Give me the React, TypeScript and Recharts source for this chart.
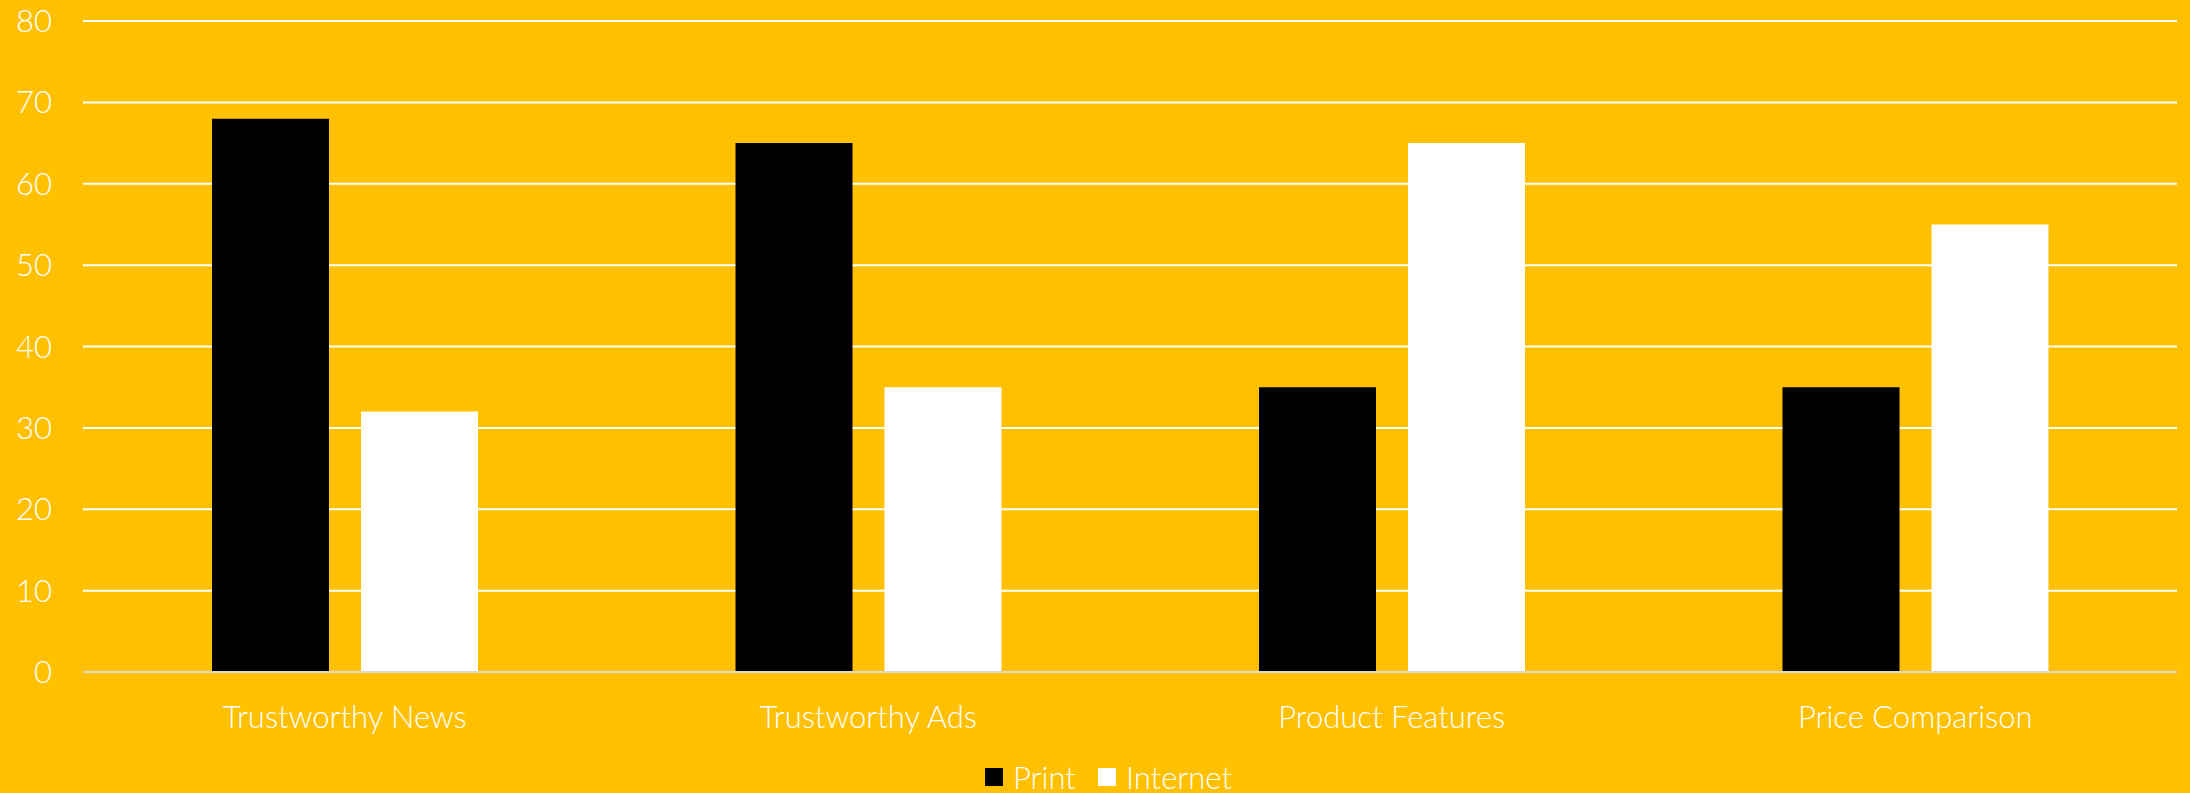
import React from "react";
import {
  BarChart,
  Bar,
  XAxis,
  YAxis,
  CartesianGrid,
  Legend,
} from "recharts";

const categories = [
  "Trustworthy News",
  "Trustworthy Ads",
  "Product Features",
  "Price Comparison",
];
const printValues = [68, 65, 35, 35];
const internetValues = [32, 35, 65, 55];
const yTicks = [0, 10, 20, 30, 40, 50, 60, 70, 80];

const seriesInfo = [
  { key: "print", name: "Print", color: "#000000" },
  { key: "internet", name: "Internet", color: "#FFFFFF" },
];

const FONT = "Lato, 'Open Sans', sans-serif";

const LegendContent = () => (
  <div style={{ display: "flex", alignItems: "center", fontFamily: FONT }}>
    {seriesInfo.map((s, i) => (
      <div
        key={s.key}
        style={{ display: "flex", alignItems: "center", marginRight: i === 0 ? 22 : 0 }}
      >
        <span
          style={{ width: 18, height: 18, background: s.color, display: "inline-block", marginRight: 10 }}
        />
        <span style={{ color: "#fff", fontSize: 31, fontWeight: 300, lineHeight: "30px" }}>
          {s.name}
        </span>
      </div>
    ))}
  </div>
);

const App = () => {
  // build rows for recharts
  const data = categories.map((c, i) => ({
    name: c,
    print: printValues[i],
    internet: internetValues[i],
  }));

  const tickStyle = { fill: "#fff", fontSize: 31, fontWeight: 300, fontFamily: FONT };

  return (
    <div style={{ width: 2190, height: 793, background: "#FFC000" }}>
      <style>{`body{margin:0}`}</style>
      <BarChart
        width={2190}
        height={793}
        data={data}
        margin={{ top: 21, right: 13, left: 0, bottom: 61 }}
        barCategoryGap={129}
        barGap={32}
      >
        <CartesianGrid vertical={false} stroke="#FFFFFF" strokeWidth={2} />
        <XAxis
          dataKey="name"
          height={60}
          tick={tickStyle}
          tickLine={false}
          tickSize={0}
          tickMargin={34}
          axisLine={{ stroke: "#D9D9D9", strokeWidth: 2 }}
        />
        <YAxis
          width={83}
          domain={[0, 80]}
          ticks={yTicks}
          tick={tickStyle}
          tickLine={false}
          tickSize={0}
          tickMargin={31}
          axisLine={false}
        />
        <Legend
          verticalAlign="middle"
          align="center"
          content={<LegendContent />}
          wrapperStyle={{ top: 762, left: 985, width: 400 }}
        />
        {seriesInfo.map((s) => (
          <Bar
            key={s.key}
            dataKey={s.key}
            name={s.name}
            fill={s.color}
            isAnimationActive={false}
          />
        ))}
      </BarChart>
    </div>
  );
};

export default App;
